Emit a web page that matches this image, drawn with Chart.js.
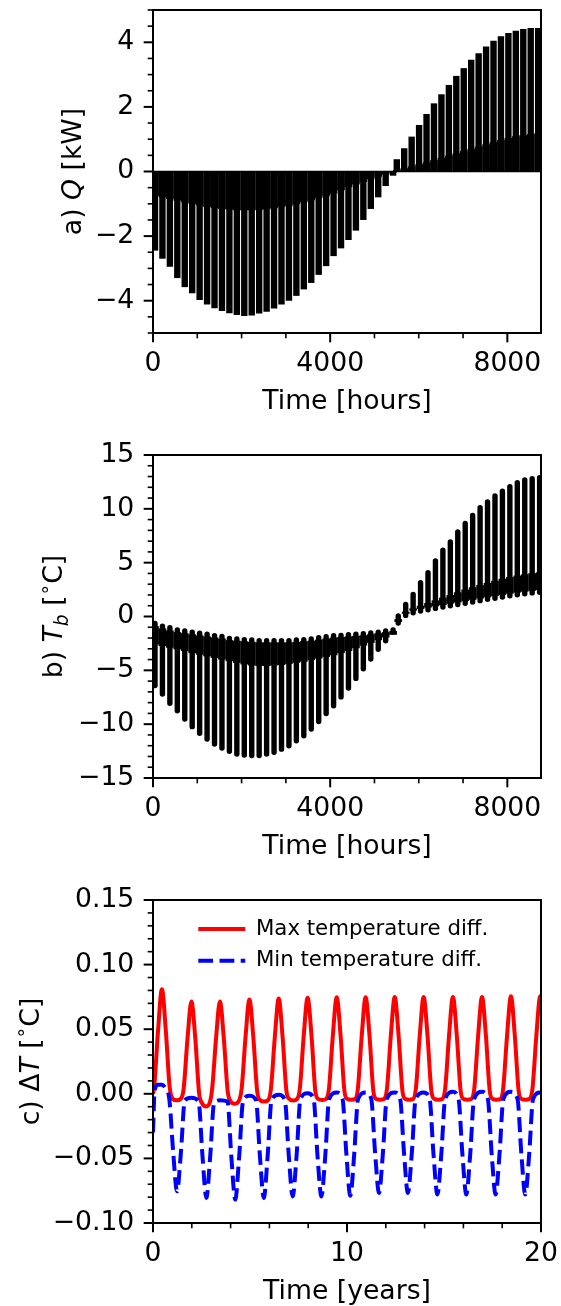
<!DOCTYPE html>
<html>
<head>
<meta charset="utf-8">
<script src="https://cdn.jsdelivr.net/npm/chart.js@4.4.1/dist/chart.umd.min.js"></script>
<style>
html,body{margin:0;padding:0;background:#fff;width:561px;height:1306px;overflow:hidden;}
canvas{position:absolute;left:0;}
</style>
</head>
<body>
<canvas id="ca" width="561" height="445" style="top:0px"></canvas>
<canvas id="cb" width="561" height="465" style="top:425px"></canvas>
<canvas id="cc" width="561" height="465" style="top:870px"></canvas>
<script>
// ---------------- tick labels ----------------
const hourTicks = [0, 4000, 8000];
const yearTicks = [0, 10, 20];
const qTicks = [-4, -2, 0, 2, 4];
const tbTicks = [-15, -10, -5, 0, 5, 10, 15];
const dtTicks = [-0.10, -0.05, 0.00, 0.05, 0.10, 0.15];

// ---------------- panel a: Q [kW] (weekly peaks) ----------------
const negWeekHours = [45,213,381,549,717,885,1053,1221,1389,1557,1725,1893,2061,2229,2397,2565,2733,2901,3069,3237,3405,3573,3741,3909,4077,4245,4413,4581,4749,4917,5085,5253,5421];
const qNegPeak = [-2.45,-2.70,-2.95,-3.30,-3.58,-3.77,-3.98,-4.12,-4.23,-4.32,-4.39,-4.44,-4.47,-4.46,-4.40,-4.34,-4.24,-4.12,-4.00,-3.85,-3.65,-3.45,-3.20,-2.93,-2.62,-2.38,-2.12,-1.83,-1.50,-1.16,-0.80,-0.45,-0.13];
const qNegInner = [-0.75,-0.80,-0.85,-0.90,-0.95,-1.00,-1.05,-1.10,-1.13,-1.16,-1.18,-1.20,-1.20,-1.20,-1.19,-1.17,-1.14,-1.10,-1.06,-1.01,-0.95,-0.89,-0.82,-0.75,-0.68,-0.58,-0.48,-0.40,-0.32,-0.24,-0.16,-0.09,-0.03];
const qPosHours = [5504,5672,5840,6008,6176,6344,6512,6680,6848,7016,7184,7352,7520,7688,7856,8024,8192,8360,8528,8696];
const qPosPeak = [0.38,0.72,1.08,1.44,1.78,2.11,2.39,2.68,2.96,3.20,3.46,3.66,3.87,4.05,4.19,4.29,4.36,4.41,4.44,4.44];
const qPosInner = [0.05,0.10,0.16,0.22,0.28,0.35,0.42,0.49,0.56,0.63,0.70,0.77,0.84,0.91,0.98,1.04,1.09,1.13,1.16,1.18];
const qZeroHours = [0, 8760];
const qZero = [0, 0];

// ---------------- panel b: T_b [°C] ----------------
const tbNegTop = [-0.39,-0.64,-0.80,-1.00,-1.10,-1.20,-1.30,-1.40,-1.53,-1.60,-1.78,-1.84,-1.90,-1.93,-2.00,-2.00,-2.00,-2.00,-2.00,-1.93,-1.90,-1.84,-1.72,-1.63,-1.53,-1.50,-1.45,-1.40,-1.35,-1.28,-1.20,-1.10,-1.00];
const tbNegBottom = [-6.67,-7.45,-8.31,-9.00,-9.77,-10.48,-11.10,-11.63,-12.09,-12.46,-12.77,-13.02,-13.11,-13.17,-13.17,-13.02,-12.86,-12.57,-12.26,-11.80,-11.33,-10.71,-10.00,-9.26,-8.55,-7.72,-6.90,-6.00,-5.10,-4.20,-3.30,-2.50,-1.70];
const tbNegNotch = [-0.90,-1.10,-1.30,-1.45,-1.55,-1.65,-1.75,-1.85,-1.95,-2.05,-2.20,-2.25,-2.30,-2.35,-2.40,-2.40,-2.40,-2.40,-2.40,-2.35,-2.30,-2.25,-2.15,-2.05,-1.95,-1.90,-1.85,-1.80,-1.75,-1.65,-1.55,-1.45,-1.35];
const tbNegSolid = [-2.60,-2.75,-2.90,-3.05,-3.20,-3.40,-3.55,-3.70,-3.85,-4.00,-4.15,-4.30,-4.45,-4.55,-4.60,-4.60,-4.55,-4.50,-4.40,-4.30,-4.20,-4.05,-3.90,-3.75,-3.60,-3.40,-3.20,-2.95,-2.70,-2.45,-2.20,-1.95,-1.70];
const tbPosHours = [5537,5705,5873,6041,6209,6377,6545,6713,6881,7049,7217,7385,7553,7721,7889,8057,8225,8393,8561,8729];
const tbPosTop = [0.30,1.38,2.31,3.39,4.32,5.40,6.42,7.17,8.10,8.90,9.64,10.36,10.88,11.44,11.90,12.30,12.68,12.93,13.05,13.14];
const tbPosBottom = [-0.85,-0.15,0.10,0.25,0.38,0.50,0.62,0.74,0.86,0.98,1.10,1.22,1.34,1.45,1.56,1.67,1.77,1.86,1.94,2.00];
const tbPosNotch = [-0.50,0.25,0.55,0.70,0.83,0.95,1.07,1.19,1.31,1.43,1.55,1.67,1.79,1.90,2.01,2.12,2.22,2.31,2.39,2.45];
const tbPosSolid = [-0.25,0.45,0.75,1.00,1.25,1.50,1.75,2.00,2.25,2.50,2.72,2.92,3.12,3.32,3.50,3.66,3.80,3.92,4.02,4.10];

// ---------------- panel c: ΔT [°C] over 20 years ----------------
const maxYears = [0.00,0.06,0.26,0.46,0.66,0.86,1.02,1.22,1.42,1.58,1.78,1.98,2.18,2.38,2.52,2.72,2.92,3.05,3.25,3.45,3.65,3.85,4.01,4.21,4.41,4.57,4.77,4.97,5.17,5.37,5.53,5.73,5.93,6.08,6.28,6.48,6.68,6.88,7.03,7.23,7.43,7.57,7.77,7.97,8.17,8.37,8.52,8.72,8.92,9.07,9.27,9.47,9.67,9.87,10.02,10.22,10.42,10.56,10.76,10.96,11.16,11.36,11.51,11.71,11.91,12.06,12.26,12.46,12.66,12.86,13.01,13.21,13.41,13.55,13.75,13.95,14.15,14.35,14.51,14.71,14.91,15.06,15.26,15.46,15.66,15.86,16.01,16.21,16.41,16.56,16.76,16.96,17.16,17.36,17.51,17.71,17.91,18.05,18.25,18.45,18.65,18.85,19.00,19.20,19.40,19.56,19.76,19.96,20.00];
const maxDiff = [0.000,0.005,0.049,0.081,0.049,0.005,-0.004,-0.005,-0.004,0.004,0.043,0.0714,0.043,0.000,-0.007,-0.0098,-0.007,0.004,0.043,0.0714,0.043,0.002,-0.006,-0.0077,-0.006,0.004,0.044,0.073,0.044,0.002,-0.005,-0.006,-0.005,0.004,0.044,0.0738,0.044,0.002,-0.004,-0.0052,-0.004,0.004,0.045,0.0744,0.045,0.002,-0.004,-0.0048,-0.004,0.004,0.045,0.0747,0.045,0.002,-0.004,-0.0046,-0.004,0.004,0.045,0.0747,0.045,0.002,-0.004,-0.0046,-0.004,0.004,0.045,0.075,0.045,0.002,-0.004,-0.0046,-0.004,0.004,0.045,0.075,0.045,0.002,-0.004,-0.0046,-0.004,0.004,0.045,0.075,0.045,0.002,-0.004,-0.0046,-0.004,0.004,0.045,0.075,0.045,0.002,-0.004,-0.0046,-0.004,0.004,0.045,0.0755,0.045,0.002,-0.004,-0.0046,-0.004,0.004,0.045,0.0755,0.075];
const minYears = [0.00,0.08,0.25,0.45,0.65,0.84,1.04,1.24,1.44,1.64,1.98,2.35,2.55,2.75,2.95,3.15,3.45,3.84,4.04,4.24,4.44,4.64,4.97,5.31,5.51,5.71,5.91,6.11,6.48,6.80,7.00,7.20,7.40,7.60,7.97,8.28,8.48,8.68,8.88,9.08,9.47,9.77,9.97,10.17,10.37,10.57,10.96,11.25,11.45,11.65,11.85,12.05,12.46,12.74,12.94,13.14,13.34,13.54,13.95,14.26,14.46,14.66,14.86,15.06,15.46,15.75,15.95,16.15,16.35,16.55,16.96,17.26,17.46,17.66,17.86,18.06,18.45,18.79,18.99,19.19,19.39,19.59,19.96,20.00];
const minDiff = [-0.030,0.002,0.007,0.007,0.004,-0.004,-0.045,-0.0755,-0.045,-0.005,-0.003,-0.006,-0.048,-0.0806,-0.048,-0.007,-0.005,-0.006,-0.049,-0.0819,-0.049,-0.006,-0.0015,-0.005,-0.048,-0.0806,-0.048,-0.005,-0.0008,-0.005,-0.048,-0.0794,-0.048,-0.004,0.0005,-0.004,-0.048,-0.0794,-0.048,-0.004,0.001,-0.004,-0.047,-0.0789,-0.047,-0.004,0.001,-0.004,-0.046,-0.0768,-0.046,-0.004,0.001,-0.004,-0.046,-0.0768,-0.046,-0.004,0.001,-0.004,-0.047,-0.078,-0.047,-0.004,0.0015,-0.004,-0.047,-0.078,-0.047,-0.004,0.0015,-0.004,-0.047,-0.078,-0.047,-0.004,0.0015,-0.004,-0.047,-0.078,-0.047,-0.004,0.001,0.001];

// ---------------- styling ----------------
const FONT = 'DejaVu Sans';
const FS = 26.67;
const LFS = 21.3;
Chart.defaults.font.family = FONT;
Chart.defaults.color = '#000';

function floatBars(xs, lo, hi) {
  return xs.map((x, i) => ({ x: x, y: [Array.isArray(lo) ? lo[i] : lo, Array.isArray(hi) ? hi[i] : hi] }));
}
function pts(xs, ys) { return xs.map((x, i) => ({ x: x, y: ys[i] })); }
function fmt(v, d) { return v.toFixed(d).replace('-', '\u2212'); }

function drawYTitle(ctx, parts, bx, cy) {
  ctx.save();
  ctx.translate(bx, cy);
  ctx.rotate(-Math.PI / 2);
  ctx.fillStyle = '#000';
  ctx.textBaseline = 'alphabetic';
  ctx.textAlign = 'left';
  const font = p => (p.style || 'normal') + ' ' + (FS * (p.size || 1)) + 'px "' + FONT + '"';
  let total = 0;
  const w = parts.map(p => { ctx.font = font(p); const m = ctx.measureText(p.text).width + (p.gap || 0); total += m; return m; });
  let x = -total / 2;
  parts.forEach((p, i) => { ctx.font = font(p); ctx.fillText(p.text, x, (p.dy || 0) * FS); x += w[i]; });
  ctx.restore();
}

function drawTicks(ctx, scale, a, min, max, step, majors, isX) {
  const n = Math.floor((max - min) / step + 1e-6);
  for (let i = 0; i <= n; i++) {
    const v = min + i * step;
    const major = majors.some(m => Math.abs(m - v) < step * 1e-3);
    const p = scale.getPixelForValue(v);
    const len = major ? 9.33 : 5.33;
    ctx.lineWidth = major ? 2 : 1.6;
    ctx.beginPath();
    if (isX) { ctx.moveTo(p, a.bottom); ctx.lineTo(p, a.bottom + len); }
    else { ctx.moveTo(a.left, p); ctx.lineTo(a.left - len, p); }
    ctx.stroke();
  }
}

function makeFrame(cfg) {
  return {
    id: 'frame',
    afterDraw(chart) {
      const ctx = chart.ctx, a = chart.chartArea;
      ctx.save();
      ctx.strokeStyle = '#000';
      drawTicks(ctx, chart.scales.x, a, cfg.xMin, cfg.xMax, cfg.xStep, cfg.xMajor, true);
      drawTicks(ctx, chart.scales.y, a, cfg.yMin, cfg.yMax, cfg.yStep, cfg.yMajor, false);
      ctx.lineWidth = 2;
      ctx.strokeRect(a.left, a.top, a.right - a.left, a.bottom - a.top);
      ctx.restore();
      drawYTitle(ctx, cfg.yTitle, cfg.yTitleX, (a.top + a.bottom) / 2);
    }
  };
}

function xAxis(min, max, ticks, title) {
  return {
    type: 'linear', min: min, max: max, offset: false,
    grid: { display: false, drawTicks: false }, border: { display: false },
    afterBuildTicks: s => { s.ticks = ticks.map(v => ({ value: v })); },
    afterFit: s => { s.height = 112; s.paddingLeft = 0; s.paddingRight = 0; },
    ticks: { font: { family: FONT, size: FS, lineHeight: 1.2 }, color: '#000', padding: 15.5, maxRotation: 0, autoSkip: false, callback: v => String(v) },
    title: { display: true, text: title, color: '#000', font: { family: FONT, size: FS, lineHeight: 1.2 }, padding: { top: 0, bottom: 26.5 } }
  };
}
function yAxis(min, max, ticks, dec) {
  return {
    type: 'linear', min: min, max: max,
    grid: { display: false, drawTicks: false }, border: { display: false },
    afterBuildTicks: s => { s.ticks = ticks.map(v => ({ value: v })); },
    afterFit: s => { s.width = 153; s.paddingTop = 0; s.paddingBottom = 0; },
    ticks: { font: { family: FONT, size: FS, lineHeight: 1.2 }, color: '#000', padding: 18.67, autoSkip: false, callback: v => fmt(v, dec) }
  };
}
function baseOpts(topPad) {
  return {
    responsive: false, animation: false, devicePixelRatio: 1, events: [],
    layout: { padding: { left: 0, right: 20, top: topPad, bottom: 0 } }
  };
}
const barStyle = { type: 'bar', backgroundColor: '#000', borderWidth: 0, grouped: false, inflateAmount: 0 };

// ---------------- chart a ----------------
new Chart(document.getElementById('ca'), {
  type: 'bar',
  data: { datasets: [
    Object.assign({}, barStyle, { label: 'Q spikes (heating)', data: floatBars(negWeekHours, qNegPeak, 0), barThickness: 6.4 }),
    Object.assign({}, barStyle, { label: 'Q base (heating)', data: floatBars(negWeekHours, qNegInner, 0), barThickness: 7.7 }),
    Object.assign({}, barStyle, { label: 'Q spikes (cooling)', data: floatBars(qPosHours, 0, qPosPeak), barThickness: 6.4 }),
    Object.assign({}, barStyle, { label: 'Q base (cooling)', data: floatBars(qPosHours, 0, qPosInner), barThickness: 7.7 }),
    { type: 'line', label: 'Q zero', data: pts(qZeroHours, qZero), borderColor: '#000', borderWidth: 1.5, pointRadius: 0 }
  ] },
  options: Object.assign(baseOpts(10), {
    plugins: { legend: { display: false }, tooltip: { enabled: false } },
    scales: { x: xAxis(0, 8760, hourTicks, 'Time [hours]'), y: yAxis(-5, 5, qTicks, 0) }
  }),
  plugins: [makeFrame({ xMin: 0, xMax: 8760, xStep: 1000, xMajor: hourTicks, yMin: -5, yMax: 5, yStep: 0.5, yMajor: qTicks,
    yTitleX: 80.8, yTitle: [{ text: 'a) ' }, { text: 'Q', style: 'italic' }, { text: ' [kW]' }] })]
});

// ---------------- chart b ----------------
const roundBar = { barThickness: 5.4, borderRadius: 2.7, borderSkipped: false };
new Chart(document.getElementById('cb'), {
  type: 'bar',
  data: { datasets: [
    Object.assign({}, barStyle, roundBar, { label: 'Tb swing (heating)', data: floatBars(negWeekHours, tbNegBottom, tbNegTop) }),
    Object.assign({}, barStyle, { label: 'Tb band (heating)', data: floatBars(negWeekHours, tbNegSolid, tbNegNotch), barThickness: 7.7 }),
    Object.assign({}, barStyle, roundBar, { label: 'Tb swing (cooling)', data: floatBars(tbPosHours, tbPosBottom, tbPosTop) }),
    Object.assign({}, barStyle, { label: 'Tb band (cooling)', data: floatBars(tbPosHours, tbPosNotch, tbPosSolid), barThickness: 7.7 })
  ] },
  options: Object.assign(baseOpts(30), {
    plugins: { legend: { display: false }, tooltip: { enabled: false } },
    scales: { x: xAxis(0, 8760, hourTicks, 'Time [hours]'), y: yAxis(-15, 15, tbTicks, 0) }
  }),
  plugins: [makeFrame({ xMin: 0, xMax: 8760, xStep: 1000, xMajor: hourTicks, yMin: -15, yMax: 15, yStep: 1, yMajor: tbTicks,
    yTitleX: 62.3, yTitle: [{ text: 'b) ' }, { text: 'T', style: 'italic' }, { text: 'b', style: 'italic', size: 0.7, dy: 0.2 }, { text: ' [' }, { text: '\u2218', size: 0.7, dy: -0.42 }, { text: 'C]' }] })]
});

// ---------------- chart c ----------------
const legendPos = {
  id: 'legendPos',
  afterLayout(chart) {
    const L = chart.legend;
    if (!L) return;
    L.left = 187.9; L.top = 37.95; L.right = 541; L.bottom = 353;
    L.width = L.right - L.left; L.height = L.bottom - L.top;
  }
};
new Chart(document.getElementById('cc'), {
  type: 'line',
  data: { datasets: [
    { label: 'Max temperature diff.', data: pts(maxYears, maxDiff), borderColor: '#ff0000', backgroundColor: '#ff0000', borderWidth: 4, pointRadius: 0, cubicInterpolationMode: 'monotone', order: 1 },
    { label: 'Min temperature diff.', data: pts(minYears, minDiff), borderColor: '#0000ff', backgroundColor: '#0000ff', borderWidth: 4, borderDash: [14.8, 6.4], pointRadius: 0, cubicInterpolationMode: 'monotone', order: 0 }
  ] },
  options: Object.assign(baseOpts(30), {
    plugins: {
      tooltip: { enabled: false },
      legend: {
        display: true, position: 'chartArea', align: 'start',
        labels: {
          usePointStyle: true, pointStyleWidth: 47, padding: 10.4, color: '#000',
          font: { family: FONT, size: LFS },
          generateLabels: chart => chart.data.datasets.map((ds, i) => ({
            text: ds.label, fillStyle: ds.borderColor, strokeStyle: ds.borderColor, lineWidth: ds.borderWidth,
            lineDash: ds.borderDash || [], lineCap: 'butt', pointStyle: 'line', hidden: false, datasetIndex: i, fontColor: '#000'
          }))
        }
      }
    },
    scales: { x: xAxis(0, 20, yearTicks, 'Time [years]'), y: yAxis(-0.10, 0.15, dtTicks, 2) }
  }),
  plugins: [legendPos, makeFrame({ xMin: 0, xMax: 20, xStep: 2, xMajor: yearTicks, yMin: -0.10, yMax: 0.15, yStep: 0.01, yMajor: dtTicks,
    yTitleX: 38.5, yTitle: [{ text: 'c) ' }, { text: '\u0394' }, { text: 'T', style: 'italic' }, { text: ' [' }, { text: '\u2218', size: 0.7, dy: -0.42 }, { text: 'C]' }] })]
});
</script>
</body>
</html>
